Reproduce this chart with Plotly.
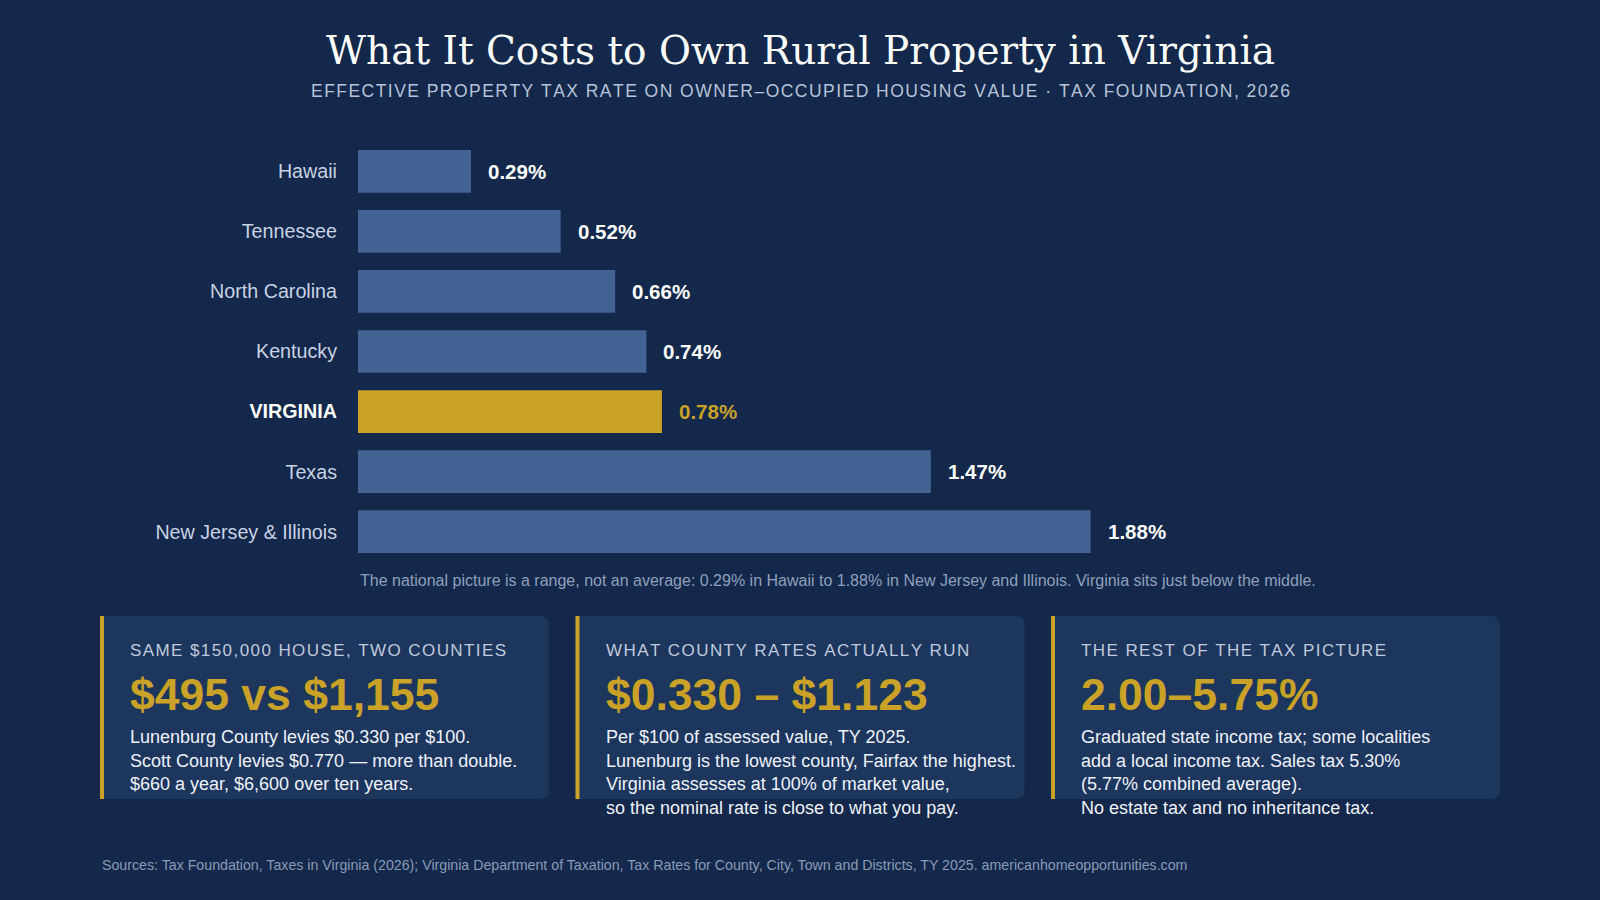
import plotly.graph_objects as go

states = ["Hawaii", "Tennessee", "North Carolina", "Kentucky", "VIRGINIA", "Texas", "New Jersey & Illinois"]
rates = [0.29, 0.52, 0.66, 0.74, 0.78, 1.47, 1.88]
highlight = "VIRGINIA"

card_heads = ["SAME $150,000 HOUSE, TWO COUNTIES", "WHAT COUNTY RATES ACTUALLY RUN", "THE REST OF THE TAX PICTURE"]
card_bigs = ["$495 vs $1,155", "$0.330 – $1.123", "2.00–5.75%"]
card_bodies = [
    ["Lunenburg County levies $0.330 per $100.", "Scott County levies $0.770 — more than double.", "$660 a year, $6,600 over ten years."],
    ["Per $100 of assessed value, TY 2025.", "Lunenburg is the lowest county, Fairfax the highest.",
     "Virginia assesses at 100% of market value,", "so the nominal rate is close to what you pay."],
    ["Graduated state income tax; some localities", "add a local income tax. Sales tax 5.30%",
     "(5.77% combined average).", "No estate tax and no inheritance tax."],
]

BG = "#13284a"
CARD = "#1c365e"
BAR = "#426393"
GOLD = "#c9a227"
SANS = "Liberation Sans, Arial, sans-serif"
W, H = 1600, 900

def px(x):
    return x / W

def py(y):
    return 1 - y / H

def spaced(s):
    # fake letter-spacing with hair spaces
    return "\u200a".join(s)

bar_colors = [GOLD if s == highlight else BAR for s in states]
ticktext = ["<b><span style='color:white'>%s</span></b>" % s if s == highlight else s for s in states]

fig = go.Figure(go.Bar(
    x=rates, y=states, orientation="h",
    marker=dict(color=bar_colors, line=dict(width=0)),
    width=0.71,
    hoverinfo="skip",
))

fig.update_xaxes(range=[0, 3.0], domain=[px(358), px(1527)], visible=False, fixedrange=True)
fig.update_yaxes(domain=[py(561.7), py(141.3)], autorange="reversed",
                 tickvals=states, ticktext=ticktext, ticks="", showgrid=False, zeroline=False,
                 showline=False, ticklabelstandoff=20,
                 tickfont=dict(size=19.7, color="#c8d3e4", family=SANS))

ann = []
for s, r in zip(states, rates):
    ann.append(dict(text="<b>%.2f%%</b>" % r, x=r, y=s, xref="x", yref="y", xanchor="left", yanchor="middle",
                    xshift=15, showarrow=False,
                    font=dict(size=20.5, color=GOLD if s == highlight else "white", family=SANS)))

shapes = []
paper_ann = []
cards_x = [100, 575.5, 1051]
rad = 9
for i, x0 in enumerate(cards_x):
    x1 = x0 + 449
    y0, y1 = 616, 799
    path = ("M %f,%f L %f,%f Q %f,%f %f,%f L %f,%f Q %f,%f %f,%f L %f,%f Z" % (
        px(x0), py(y0), px(x1 - rad), py(y0), px(x1), py(y0), px(x1), py(y0 + rad),
        px(x1), py(y1 - rad), px(x1), py(y1), px(x1 - rad), py(y1), px(x0), py(y1)))
    shapes.append(dict(type="path", path=path, xref="paper", yref="paper",
                       fillcolor=CARD, line=dict(width=0), layer="below"))
    shapes.append(dict(type="rect", xref="paper", yref="paper", x0=px(x0), x1=px(x0 + 4), y0=py(y1), y1=py(y0),
                       fillcolor=GOLD, line=dict(width=0)))
    tx = px(x0 + 28)
    paper_ann.append(dict(text=spaced(card_heads[i]), x=tx, y=py(650), xanchor="left", yanchor="middle",
                          font=dict(size=17, color="#c0cadb", family=SANS)))
    paper_ann.append(dict(text="<b>%s</b>" % card_bigs[i], x=tx, y=py(694), xanchor="left", yanchor="middle",
                          font=dict(size=44.5, color=GOLD, family=SANS)))
    for j, line in enumerate(card_bodies[i]):
        paper_ann.append(dict(text=line, x=tx, y=py(737 + 23.5 * j), xanchor="left", yanchor="middle",
                              font=dict(size=18, color="#eef2f8", family=SANS)))

paper_ann.append(dict(text="What It Costs to Own Rural Property in Virginia", x=0.5, y=py(51),
                      xanchor="center", yanchor="middle",
                      font=dict(size=39, color="white", family="DejaVu Serif, serif")))
paper_ann.append(dict(text=spaced("EFFECTIVE PROPERTY TAX RATE ON OWNER–OCCUPIED HOUSING VALUE · TAX FOUNDATION, 2026"),
                      x=0.5, y=py(91), xanchor="center", yanchor="middle",
                      font=dict(size=17.5, color="#b7c3d8", family=SANS)))
paper_ann.append(dict(text="The national picture is a range, not an average: 0.29% in Hawaii to 1.88% in New Jersey and Illinois. Virginia sits just below the middle.",
                      x=px(358), y=py(580), xanchor="left", yanchor="middle",
                      font=dict(size=16, color="#8fa0bc", family=SANS)))
paper_ann.append(dict(text="Sources: Tax Foundation, Taxes in Virginia (2026); Virginia Department of Taxation, Tax Rates for County, City, Town and Districts, TY 2025. americanhomeopportunities.com",
                      x=px(100), y=py(865), xanchor="left", yanchor="middle",
                      font=dict(size=14.2, color="#8b9bb6", family=SANS)))
for a in paper_ann:
    a.update(xref="paper", yref="paper", showarrow=False)

fig.update_layout(width=W, height=H, margin=dict(l=0, r=0, t=0, b=0),
                  paper_bgcolor=BG, plot_bgcolor=BG, showlegend=False,
                  shapes=shapes, annotations=ann + paper_ann)

fig.write_html("out.html", config={"displayModeBar": False},
               post_script="document.body.style.margin='0';document.body.style.overflow='hidden';document.body.style.background='%s';" % BG)
